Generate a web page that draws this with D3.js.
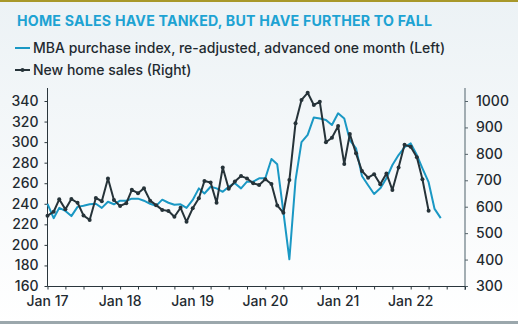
<!DOCTYPE html>
<html>
<head>
<meta charset="utf-8">
<script src="https://cdn.jsdelivr.net/npm/d3@7"></script>
<style>
  html, body { margin: 0; padding: 0; background: #fff; }
  svg { display: block; font-family: Inter, "Open Sans", sans-serif; }
</style>
</head>
<body>
<script>
// series start months (monthly data)
const salesStart = new Date(2017, 0, 1);
const mbaStart = new Date(2017, 0, 1);

// New home sales, thousands annualised (right axis)
const newHomeSales = [
  566, 581, 628, 590, 629, 615, 567, 550, 633, 621, 707, 625,
  603, 613, 664, 651, 670, 623, 606, 588, 584, 562, 596, 543,
  594, 632, 697, 692, 615, 748, 668, 695, 716, 707, 689, 682,
  704, 686, 605, 577, 701, 916, 1004, 1031, 985, 997, 844, 861,
  905, 762, 875, 802, 735, 710, 723, 685, 726, 663, 748, 834,
  827, 787, 704, 585
];

// MBA purchase index, re-adjusted, advanced one month (left axis)
const mbaIndex = [
  240, 226, 236, 233, 228, 237, 238, 239.5, 240, 236, 242, 239.5,
  243, 243, 245, 245, 243, 240, 238, 244, 241, 239, 239.5, 236,
  243.7, 255, 250, 256.6, 255, 251.7, 256.6, 260, 255, 261.5, 261.5, 264.8,
  264.8, 283.5, 278.4, 232, 186, 263, 300, 307, 324, 323, 321.5, 316.6,
  328, 323, 302, 294, 267, 258, 249.5, 255, 264.8, 277.7, 287.4, 295,
  298.8, 287.4, 274.5, 261, 235, 226
];

const leftTicks = [160, 180, 200, 220, 240, 260, 280, 300, 320, 340];
const rightTicks = [300, 400, 500, 600, 700, 800, 900, 1000];
const yearLabels = ["Jan 17", "Jan 18", "Jan 19", "Jan 20", "Jan 21", "Jan 22"];

const title = "HOME SALES HAVE TANKED, BUT HAVE FURTHER TO FALL";
const legendMba = "MBA purchase index, re-adjusted, advanced one month (Left)";
const legendSales = "New home sales (Right)";

const W = 518, H = 326;
const cyan = "#1a98c4", dark = "#263339", text = "#1f2a30";

const monthOf = (start, i) => d3.timeMonth.offset(start, i);

const x = d3.scaleTime()
  .domain([new Date(2017, 0, 1), new Date(2022, 9, 1)])
  .range([47.5, 465]);
const yL = d3.scaleLinear().domain([160, 340]).range([286, 101]);
const yR = d3.scaleLinear().domain([300, 1000]).range([286, 101]);

const svg = d3.select("body").append("svg")
  .attr("width", W).attr("height", H);

const grad = svg.append("defs").append("linearGradient")
  .attr("id", "bg").attr("x1", 0).attr("y1", 0).attr("x2", 0).attr("y2", 1);
grad.append("stop").attr("offset", "0%").attr("stop-color", "#ecf2f5");
grad.append("stop").attr("offset", "100%").attr("stop-color", "#ffffff");

svg.append("rect").attr("width", W).attr("height", H).attr("fill", "url(#bg)");
svg.append("rect").attr("width", W).attr("height", 2).attr("fill", "#a8982a");
svg.append("rect").attr("y", 321).attr("width", W).attr("height", 3).attr("fill", "#9ba7ac");

// title + legend
svg.append("text").attr("x", 17).attr("y", 26)
  .attr("font-size", 14.2).attr("font-weight", 700).attr("fill", "#1ea3d3")
  .attr("letter-spacing", 0.2)
  .text(title);

const lg = svg.append("g").attr("font-size", 14).attr("font-weight", 500).attr("fill", text);
lg.append("line").attr("x1", 15).attr("x2", 30).attr("y1", 48).attr("y2", 48)
  .attr("stroke", cyan).attr("stroke-width", 2);
lg.append("text").attr("x", 33).attr("y", 53).text(legendMba);
lg.append("line").attr("x1", 15).attr("x2", 30).attr("y1", 70).attr("y2", 70)
  .attr("stroke", dark).attr("stroke-width", 2);
lg.append("circle").attr("cx", 22.5).attr("cy", 70).attr("r", 2).attr("fill", dark);
lg.append("text").attr("x", 33).attr("y", 75).text(legendSales);

// axes
const axL = svg.append("g").attr("transform", "translate(47.5,0)")
  .call(d3.axisLeft(yL).tickValues(leftTicks).tickSize(3).tickPadding(6));
axL.select(".domain").attr("d", "M0,88V286.5");

const axR = svg.append("g").attr("transform", "translate(465,0)")
  .call(d3.axisRight(yR).tickValues(rightTicks).tickSize(3).tickPadding(8)
    .tickFormat(d3.format("d")));
axR.select(".domain").attr("d", "M0,88V290").attr("stroke", "#8d9aa0").attr("stroke-width", 1.6);

const quarters = d3.timeMonth.every(3).range(new Date(2017, 0, 1), new Date(2022, 9, 2));
const axB = svg.append("g").attr("transform", "translate(0,286.5)")
  .call(d3.axisBottom(x).tickValues(quarters).tickSize(3).tickFormat(""));
axB.select(".domain").attr("d", "M47.5,0H465");

const years = yearLabels.map((t, i) => new Date(2017 + i, 0, 1));
svg.append("g").selectAll("text").data(years).join("text")
  .attr("x", d => x(d)).attr("y", 305.5)
  .attr("text-anchor", "middle").attr("font-size", 14).attr("font-weight", 500)
  .attr("fill", text)
  .text((d, i) => yearLabels[i]);

[axL, axB].forEach(a => a.select(".domain").attr("stroke", "#2a363c"));
svg.selectAll(".tick line").attr("stroke", "#2a363c");
axR.selectAll(".tick line").attr("stroke", "#55636a");
[axL, axR].forEach(a => a.selectAll(".tick text")
  .attr("font-size", 14).attr("font-weight", 500).attr("fill", text)
  .attr("font-family", "Inter, sans-serif"));

// series
const mbaLine = d3.line()
  .x((d, i) => x(monthOf(mbaStart, i)))
  .y(d => yL(d));
svg.append("path").datum(mbaIndex)
  .attr("d", mbaLine).attr("fill", "none")
  .attr("stroke", cyan).attr("stroke-width", 2).attr("stroke-linejoin", "round");

const salesLine = d3.line()
  .x((d, i) => x(monthOf(salesStart, i)))
  .y(d => yR(d));
svg.append("path").datum(newHomeSales)
  .attr("d", salesLine).attr("fill", "none")
  .attr("stroke", dark).attr("stroke-width", 2).attr("stroke-linejoin", "round");
svg.append("g").selectAll("circle").data(newHomeSales).join("circle")
  .attr("cx", (d, i) => x(monthOf(salesStart, i)))
  .attr("cy", d => yR(d))
  .attr("r", 2).attr("fill", dark);
</script>
</body>
</html>
